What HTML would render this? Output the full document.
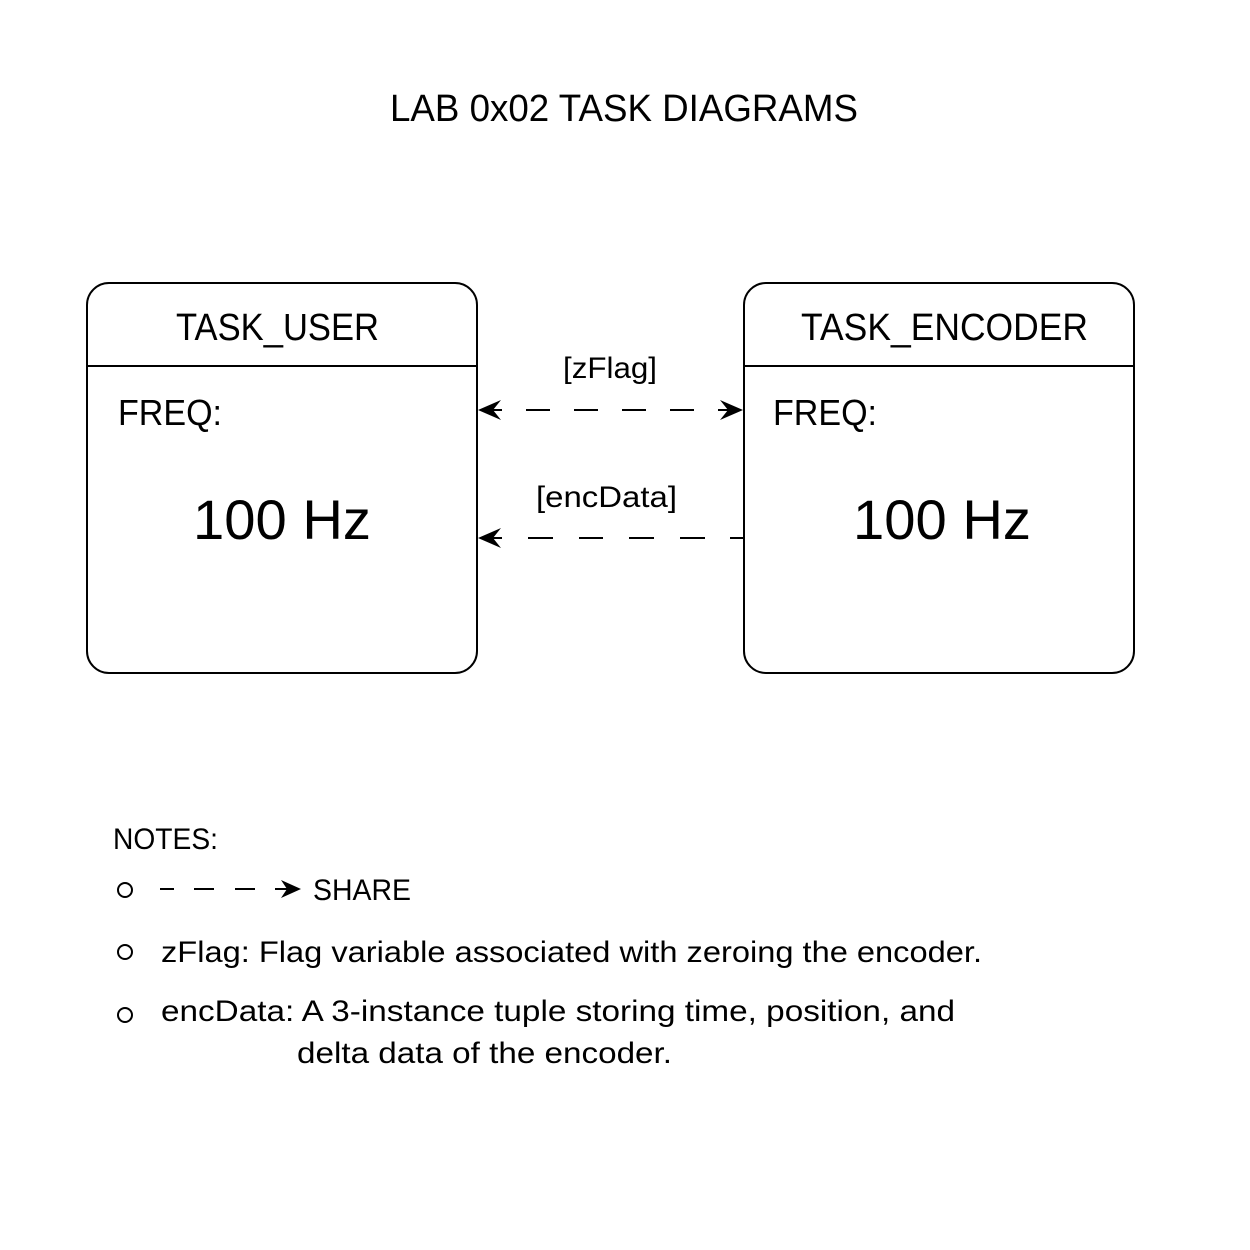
<!DOCTYPE html>
<html><head><style>body{margin:0;background:#fff}svg{display:block}</style></head><body>
<svg width="1250" height="1250" xmlns="http://www.w3.org/2000/svg" font-family="Liberation Sans, sans-serif" fill="#000">
<rect width="1250" height="1250" fill="#fff"/>
<text x="390" y="121" font-size="38" textLength="468" lengthAdjust="spacingAndGlyphs">LAB 0x02 TASK DIAGRAMS</text>
<g fill="none" stroke="#000" stroke-width="2">
<rect x="87" y="283" width="390" height="390" rx="22"/>
<line x1="87" y1="366" x2="477" y2="366"/>
<rect x="744" y="283" width="390" height="390" rx="22"/>
<line x1="744" y1="366" x2="1134" y2="366"/>
<path d="M485 410H502M526 410H550M574 410H598M622 410H646M670 410H694M718 410H736"/>
<path d="M485 538H502M528 538H553M579 538H603M629 538H654M680 538H705M730 538H744"/>
<path d="M160 889H174M194 889H214M235 889H255M275 889H290"/>
</g>
<path d="M478 410 L501 400 L493 410 L501 420 Z"/>
<path d="M743 410 L720 400 L728 410 L720 420 Z"/>
<path d="M478 538 L501 528 L493 538 L501 548 Z"/>
<path d="M301 889 L281 880 L287 889 L281 898 Z"/>
<text x="176" y="340" font-size="38" textLength="203" lengthAdjust="spacingAndGlyphs">TASK_USER</text>
<text x="801" y="340" font-size="38" textLength="287" lengthAdjust="spacingAndGlyphs">TASK_ENCODER</text>
<text x="118" y="425" font-size="36" textLength="104" lengthAdjust="spacingAndGlyphs">FREQ:</text>
<text x="773" y="425" font-size="36" textLength="104" lengthAdjust="spacingAndGlyphs">FREQ:</text>
<text x="193" y="539" font-size="56" textLength="178" lengthAdjust="spacingAndGlyphs">100 Hz</text>
<text x="853" y="539" font-size="56" textLength="178" lengthAdjust="spacingAndGlyphs">100 Hz</text>
<text x="563" y="378" font-size="30" textLength="94" lengthAdjust="spacingAndGlyphs">[zFlag]</text>
<text x="536" y="507" font-size="30" textLength="141" lengthAdjust="spacingAndGlyphs">[encData]</text>
<text x="113" y="849" font-size="30" textLength="105" lengthAdjust="spacingAndGlyphs">NOTES:</text>
<g fill="none" stroke="#000" stroke-width="2">
<circle cx="125" cy="890" r="7"/><circle cx="125" cy="952" r="7"/><circle cx="125" cy="1015" r="7"/>
</g>
<text x="313" y="900" font-size="30" textLength="98" lengthAdjust="spacingAndGlyphs">SHARE</text>
<text x="161" y="962" font-size="30" textLength="821" lengthAdjust="spacingAndGlyphs">zFlag: Flag variable associated with zeroing the encoder.</text>
<text x="161" y="1021" font-size="30" textLength="794" lengthAdjust="spacingAndGlyphs">encData: A 3-instance tuple storing time, position, and</text>
<text x="297" y="1063" font-size="30" textLength="375" lengthAdjust="spacingAndGlyphs">delta data of the encoder.</text>
</svg>
</body></html>
